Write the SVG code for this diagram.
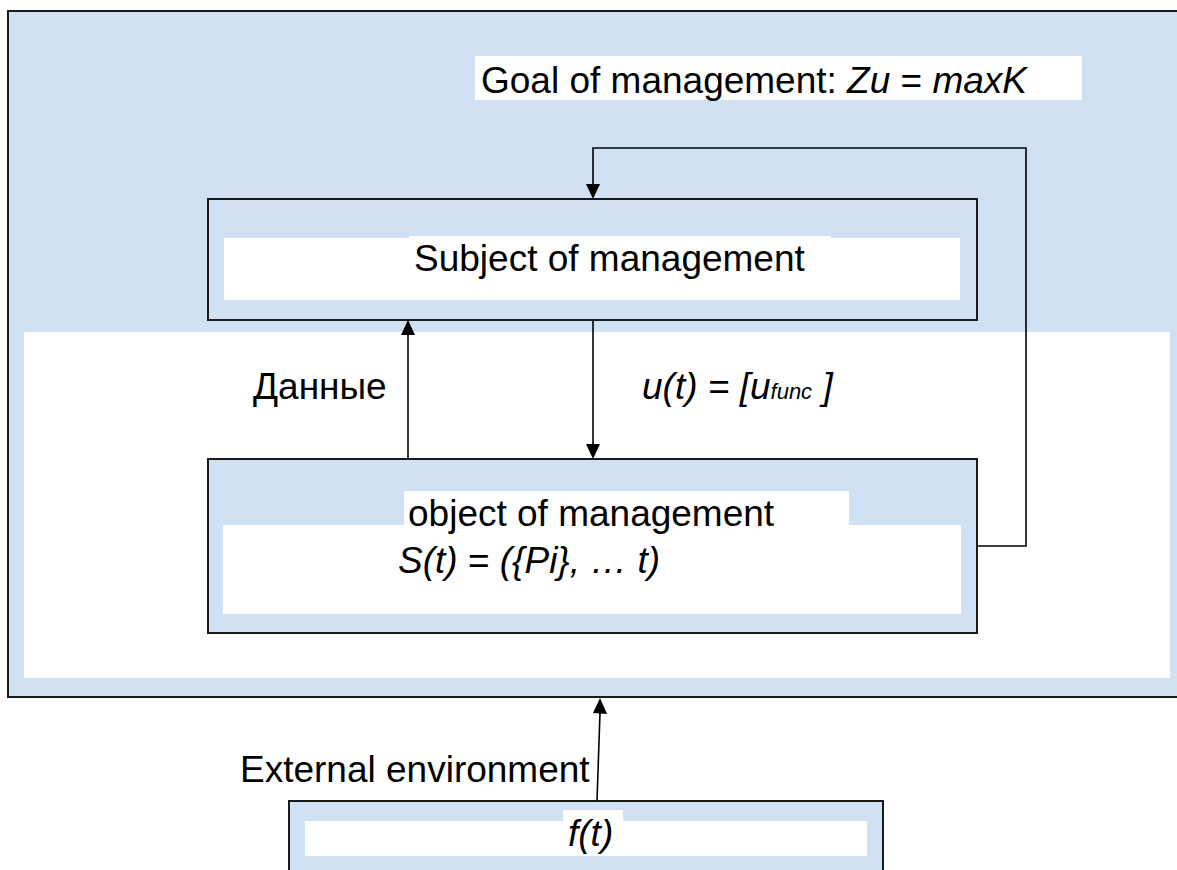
<svg xmlns="http://www.w3.org/2000/svg" width="1177" height="870" viewBox="0 0 1177 870">
  <defs>
    <marker id="arrow" viewBox="0 0 14 15" refX="7" refY="15" markerWidth="14" markerHeight="15" markerUnits="userSpaceOnUse" orient="auto-start-reverse">
      <path d="M0,0 L14,0 L7,15 Z" fill="#000"/>
    </marker>
    <marker id="arrowUp" viewBox="0 0 14 15" refX="7" refY="0" markerWidth="14" markerHeight="15" markerUnits="userSpaceOnUse" orient="0">
      <path d="M7,0 L14,15 L0,15 Z" fill="#000"/>
    </marker>
  </defs>
  <style>
    .panel { fill: #cfe1f2; stroke: #1a1a1a; stroke-width: 2; }
    .pad { fill: #ffffff; stroke: none; }
    .label { font-family: "Liberation Sans", Arial, sans-serif; font-size: 37px; fill: #000; }
    .it { font-style: italic; }
    .wire { fill: none; stroke: #000; stroke-width: 1.6; }
  </style>

  <rect width="1177" height="870" fill="#ffffff"/>

  <!-- control system frame -->
  <g id="system">
    <rect class="panel" x="8" y="11" width="1180" height="686"/>
    <rect class="pad" x="24" y="332" width="1146" height="346"/>
  </g>

  <!-- goal label -->
  <g id="goal">
    <rect class="pad" x="475" y="56" width="607" height="44"/>
    <text class="label" x="481" y="93">Goal of management: <tspan class="it">Zu</tspan> = <tspan class="it">maxK</tspan></text>
  </g>

  <!-- subject of management -->
  <g id="subject">
    <rect class="panel" x="208" y="199" width="769" height="121"/>
    <rect class="pad" x="224" y="238" width="736" height="62"/>
    <rect class="pad" x="409" y="236" width="422" height="4"/>
    <text class="label" x="414" y="271">Subject of management</text>
  </g>

  <!-- object of management -->
  <g id="object">
    <rect class="panel" x="208" y="459" width="769" height="174"/>
    <rect class="pad" x="223" y="525" width="738" height="89"/>
    <rect class="pad" x="404" y="491" width="445" height="36"/>
    <text class="label" x="408" y="526">object of management</text>
    <text class="label" x="398" y="573"><tspan class="it">S(t)</tspan> = <tspan class="it">({Pi}, … t)</tspan></text>
  </g>

  <!-- external environment source -->
  <g id="environment">
    <rect class="panel" x="289" y="801" width="594" height="80"/>
    <rect class="pad" x="305" y="821" width="562" height="35"/>
    <rect class="pad" x="563" y="810" width="60" height="12"/>
    <text class="label it" x="568" y="846">f(t)</text>
  </g>

  <!-- connectors -->
  <g id="connectors">
    <!-- data: object -> subject -->
    <line class="wire" x1="408" y1="459" x2="408" y2="320" marker-end="url(#arrowUp)"/>
    <!-- control action: subject -> object -->
    <path class="wire" d="M593,320 L593,444"/>
    <path d="M586,444 L600,444 L593,459 Z" fill="#000"/>
    <!-- feedback loop: object -> subject -->
    <path class="wire" d="M977,546 L1026,546 L1026,148 L593,148 L593,184"/>
    <path d="M586,184 L600,184 L593,199 Z" fill="#000"/>
    <!-- environment influence -->
    <line class="wire" x1="597" y1="801" x2="600" y2="713"/>
    <path d="M600,698 L607,714 L593,713 Z" fill="#000"/>
  </g>

  <!-- connector labels -->
  <g id="connector-labels">
    <text class="label" x="253" y="399">Данные</text>
    <text class="label it" x="642" y="399">u(t) = [u<tspan font-size="22">func</tspan> ]</text>
    <text class="label" x="240" y="782">External environment</text>
  </g>
</svg>
